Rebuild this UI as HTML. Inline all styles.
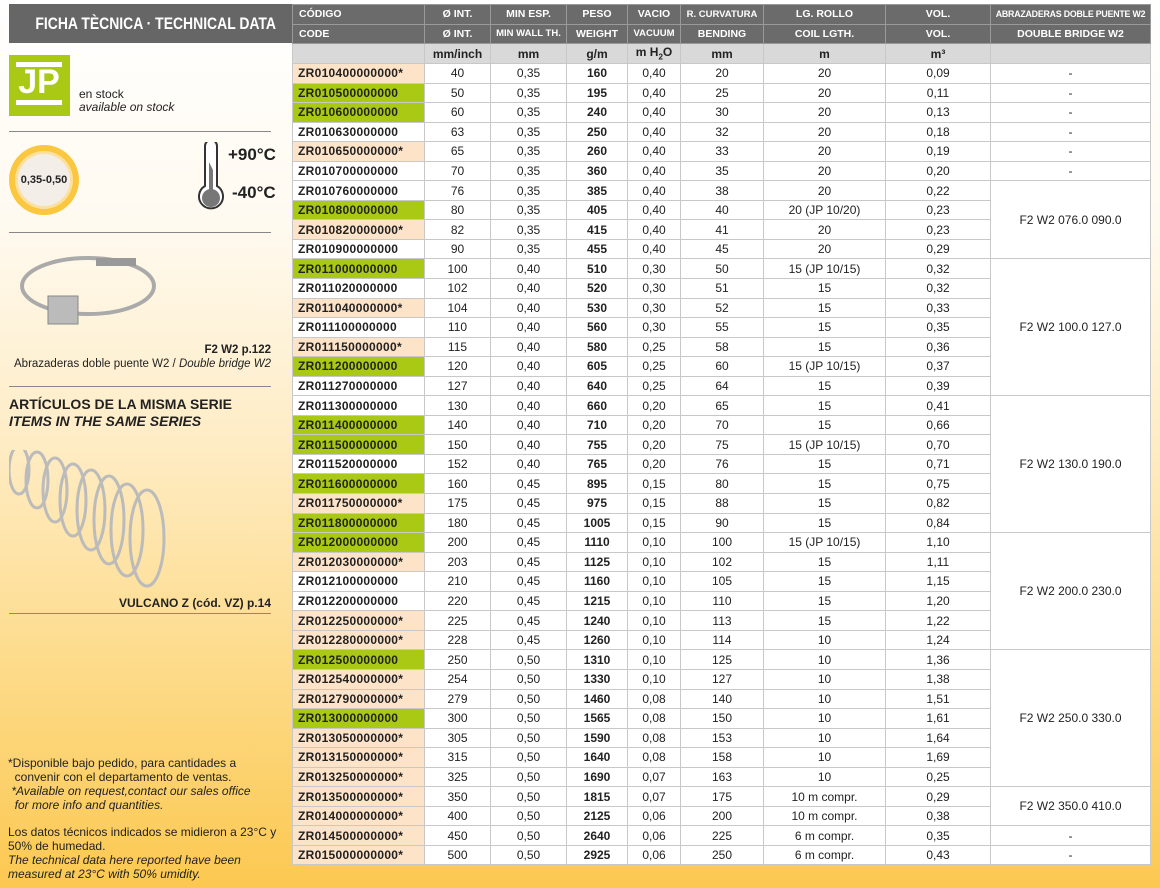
<!DOCTYPE html>
<html><head><meta charset="utf-8">
<style>
*{margin:0;padding:0;box-sizing:border-box}
body{width:1160px;height:888px;overflow:hidden;position:relative;font-family:"Liberation Sans Narrow","Liberation Sans",sans-serif;background:linear-gradient(to bottom,#ffffff 0%,#fffaf0 25%,#feecc4 50%,#fddb8a 75%,#fcc850 100%);color:#222}
.abs{position:absolute}
table{position:absolute;left:292px;top:4px;width:858px;border-collapse:collapse;table-layout:fixed;background:#fff;font-size:12px}
td{border:1px solid #c8c8c8;text-align:center;height:19.55px;padding:0;white-space:nowrap;overflow:hidden}
tr.h td{background:#6b6b6b;color:#fff;font-weight:bold;font-size:10.5px;border-color:#9a9a9a;height:19.5px}
tr.h td.l{text-align:left;padding-left:6px}
tr.u td{background:#d9d9d9;font-weight:bold;font-size:12px;height:20px}
td.c{text-align:left;padding-left:5px;font-weight:bold;letter-spacing:0.3px}
td.g{background:#a9c914}
td.p{background:#fde3c8}
td.b{font-weight:bold}
.line{position:absolute;left:9px;width:262px;height:1px;background:#888}
.sx{display:inline-block;transform:scaleX(0.86);transform-origin:center}
</style></head><body>
<div class="abs" style="left:9px;top:4px;width:283px;height:39px;background:#666;color:#fff;font-weight:bold;font-size:17px;text-align:center;line-height:39px;white-space:nowrap"><span class="sx" style="transform:scaleX(0.82)">FICHA TÈCNICA · TECHNICAL DATA</span></div>
<div class="abs" style="left:9px;top:55px;width:61px;height:61px;background:#a9c914"></div>
<div class="abs" style="left:16px;top:62px;width:46px;height:5px;background:#fff"></div>
<div class="abs" style="left:14px;top:64px;width:50px;height:36px;color:#fff;font-weight:bold;font-size:34px;line-height:36px;font-family:'Liberation Sans',sans-serif;text-align:center">JP</div>
<div class="abs" style="left:16px;top:100px;width:46px;height:5px;background:#fff"></div>
<div class="abs" style="left:79px;top:88px;font-size:12px;line-height:13px">en stock<br><i>available on stock</i></div>
<div class="line" style="top:131px"></div>
<div class="abs" style="left:9px;top:145px;width:70px;height:70px;border-radius:50%;background:#fbc73f"></div>
<div class="abs" style="left:15px;top:151px;width:58px;height:58px;border-radius:50%;background:#fbe0a0"></div>
<div class="abs" style="left:18px;top:154px;width:52px;height:52px;border-radius:50%;background:#f3efe8"></div>
<div class="abs" style="left:9px;top:174px;width:70px;text-align:center;font-size:11px;font-weight:bold">0,35-0,50</div>
<svg class="abs" style="left:196px;top:142px" width="30" height="72"><path d="M9 4 a6 6 0 0 1 12 0 v40 a12 12 0 1 1 -12 0z" fill="#fff" stroke="#333" stroke-width="2"/><circle cx="15" cy="56" r="9" fill="#777"/><path d="M13 20 l4 8 v20 h-4z" fill="#777"/></svg>
<div class="abs" style="left:228px;top:145px;font-size:17px;font-weight:bold">+90°C</div>
<div class="abs" style="left:232px;top:183px;font-size:17px;font-weight:bold">-40°C</div>
<div class="line" style="top:232px"></div>
<svg class="abs" style="left:18px;top:246px" width="140" height="90"><ellipse cx="70" cy="40" rx="66" ry="28" fill="none" stroke="#aaa" stroke-width="4"/><rect x="78" y="12" width="40" height="8" fill="#999"/><rect x="30" y="50" width="30" height="28" fill="#bbb" stroke="#888"/></svg>
<div class="abs" style="left:0px;top:343px;width:271px;text-align:right;font-size:11.5px;line-height:14px;white-space:nowrap"><b>F2 W2 p.122</b><br>Abrazaderas doble puente W2 / <i>Double bridge W2</i></div>
<div class="line" style="top:386px"></div>
<div class="abs" style="left:9px;top:396px;font-size:14px;font-weight:bold;line-height:17px">ARTÍCULOS DE LA MISMA SERIE<br><i>ITEMS IN THE SAME SERIES</i></div>
<svg class="abs" style="left:9px;top:450px" width="160" height="140"><g fill="none" stroke="#bbb" stroke-width="3"><ellipse cx="10" cy="20" rx="10" ry="24"/><ellipse cx="28" cy="30" rx="11" ry="28"/><ellipse cx="46" cy="40" rx="12" ry="32"/><ellipse cx="64" cy="50" rx="13" ry="36"/><ellipse cx="82" cy="60" rx="14" ry="40"/><ellipse cx="100" cy="70" rx="15" ry="44"/><ellipse cx="118" cy="80" rx="16" ry="46"/><ellipse cx="138" cy="88" rx="17" ry="48"/></g></svg>
<div class="abs" style="left:9px;top:596px;width:262px;text-align:right;font-size:12px;font-weight:bold">VULCANO Z (cód. VZ) p.14</div>
<div class="line" style="top:613px"></div>
<div class="abs" style="left:8px;top:756px;font-size:12px;line-height:14px">*Disponible bajo pedido, para cantidades a<br>&nbsp;&nbsp;convenir con el departamento de ventas.<br><i>&nbsp;*Available on request,contact our sales office<br>&nbsp;&nbsp;for more info and quantities.</i></div>
<div class="abs" style="left:8px;top:825px;font-size:12px;line-height:14px">Los datos técnicos indicados se midieron a 23°C y<br>50% de humedad.<br><i>The technical data here reported have been<br>measured at 23°C with 50% umidity.</i></div>
<table>
<colgroup><col style="width:132px"><col style="width:66px"><col style="width:76px"><col style="width:61px"><col style="width:53px"><col style="width:83px"><col style="width:122px"><col style="width:105px"><col style="width:160px"></colgroup>
<tr class="h"><td class="l">CÓDIGO</td><td>Ø INT.</td><td>MIN ESP.</td><td>PESO</td><td>VACIO</td><td style="font-size:9.5px">R. CURVATURA</td><td>LG. ROLLO</td><td>VOL.</td><td style="font-size:8.8px;letter-spacing:-0.2px">ABRAZADERAS DOBLE PUENTE W2</td></tr>
<tr class="h"><td class="l">CODE</td><td>Ø INT.</td><td style="font-size:9.5px">MIN WALL TH.</td><td>WEIGHT</td><td style="font-size:9.5px">VACUUM</td><td>BENDING</td><td>COIL LGTH.</td><td>VOL.</td><td>DOUBLE BRIDGE W2</td></tr>
<tr class="u"><td></td><td>mm/inch</td><td>mm</td><td>g/m</td><td>m H<sub style="font-size:8px">2</sub>O</td><td>mm</td><td>m</td><td>m³</td><td></td></tr>
<tr><td class="c p">ZR010400000000*</td><td>40</td><td>0,35</td><td class="b">160</td><td>0,40</td><td>20</td><td>20</td><td>0,09</td><td>-</td></tr>
<tr><td class="c g">ZR010500000000</td><td>50</td><td>0,35</td><td class="b">195</td><td>0,40</td><td>25</td><td>20</td><td>0,11</td><td>-</td></tr>
<tr><td class="c g">ZR010600000000</td><td>60</td><td>0,35</td><td class="b">240</td><td>0,40</td><td>30</td><td>20</td><td>0,13</td><td>-</td></tr>
<tr><td class="c">ZR010630000000</td><td>63</td><td>0,35</td><td class="b">250</td><td>0,40</td><td>32</td><td>20</td><td>0,18</td><td>-</td></tr>
<tr><td class="c p">ZR010650000000*</td><td>65</td><td>0,35</td><td class="b">260</td><td>0,40</td><td>33</td><td>20</td><td>0,19</td><td>-</td></tr>
<tr><td class="c">ZR010700000000</td><td>70</td><td>0,35</td><td class="b">360</td><td>0,40</td><td>35</td><td>20</td><td>0,20</td><td>-</td></tr>
<tr><td class="c">ZR010760000000</td><td>76</td><td>0,35</td><td class="b">385</td><td>0,40</td><td>38</td><td>20</td><td>0,22</td><td rowspan="4">F2 W2 076.0 090.0</td></tr>
<tr><td class="c g">ZR010800000000</td><td>80</td><td>0,35</td><td class="b">405</td><td>0,40</td><td>40</td><td>20 (JP 10/20)</td><td>0,23</td></tr>
<tr><td class="c p">ZR010820000000*</td><td>82</td><td>0,35</td><td class="b">415</td><td>0,40</td><td>41</td><td>20</td><td>0,23</td></tr>
<tr><td class="c">ZR010900000000</td><td>90</td><td>0,35</td><td class="b">455</td><td>0,40</td><td>45</td><td>20</td><td>0,29</td></tr>
<tr><td class="c g">ZR011000000000</td><td>100</td><td>0,40</td><td class="b">510</td><td>0,30</td><td>50</td><td>15 (JP 10/15)</td><td>0,32</td><td rowspan="7">F2 W2 100.0 127.0</td></tr>
<tr><td class="c">ZR011020000000</td><td>102</td><td>0,40</td><td class="b">520</td><td>0,30</td><td>51</td><td>15</td><td>0,32</td></tr>
<tr><td class="c p">ZR011040000000*</td><td>104</td><td>0,40</td><td class="b">530</td><td>0,30</td><td>52</td><td>15</td><td>0,33</td></tr>
<tr><td class="c">ZR011100000000</td><td>110</td><td>0,40</td><td class="b">560</td><td>0,30</td><td>55</td><td>15</td><td>0,35</td></tr>
<tr><td class="c p">ZR011150000000*</td><td>115</td><td>0,40</td><td class="b">580</td><td>0,25</td><td>58</td><td>15</td><td>0,36</td></tr>
<tr><td class="c g">ZR011200000000</td><td>120</td><td>0,40</td><td class="b">605</td><td>0,25</td><td>60</td><td>15 (JP 10/15)</td><td>0,37</td></tr>
<tr><td class="c">ZR011270000000</td><td>127</td><td>0,40</td><td class="b">640</td><td>0,25</td><td>64</td><td>15</td><td>0,39</td></tr>
<tr><td class="c">ZR011300000000</td><td>130</td><td>0,40</td><td class="b">660</td><td>0,20</td><td>65</td><td>15</td><td>0,41</td><td rowspan="7">F2 W2 130.0 190.0</td></tr>
<tr><td class="c g">ZR011400000000</td><td>140</td><td>0,40</td><td class="b">710</td><td>0,20</td><td>70</td><td>15</td><td>0,66</td></tr>
<tr><td class="c g">ZR011500000000</td><td>150</td><td>0,40</td><td class="b">755</td><td>0,20</td><td>75</td><td>15 (JP 10/15)</td><td>0,70</td></tr>
<tr><td class="c">ZR011520000000</td><td>152</td><td>0,40</td><td class="b">765</td><td>0,20</td><td>76</td><td>15</td><td>0,71</td></tr>
<tr><td class="c g">ZR011600000000</td><td>160</td><td>0,45</td><td class="b">895</td><td>0,15</td><td>80</td><td>15</td><td>0,75</td></tr>
<tr><td class="c p">ZR011750000000*</td><td>175</td><td>0,45</td><td class="b">975</td><td>0,15</td><td>88</td><td>15</td><td>0,82</td></tr>
<tr><td class="c g">ZR011800000000</td><td>180</td><td>0,45</td><td class="b">1005</td><td>0,15</td><td>90</td><td>15</td><td>0,84</td></tr>
<tr><td class="c g">ZR012000000000</td><td>200</td><td>0,45</td><td class="b">1110</td><td>0,10</td><td>100</td><td>15 (JP 10/15)</td><td>1,10</td><td rowspan="6">F2 W2 200.0 230.0</td></tr>
<tr><td class="c p">ZR012030000000*</td><td>203</td><td>0,45</td><td class="b">1125</td><td>0,10</td><td>102</td><td>15</td><td>1,11</td></tr>
<tr><td class="c">ZR012100000000</td><td>210</td><td>0,45</td><td class="b">1160</td><td>0,10</td><td>105</td><td>15</td><td>1,15</td></tr>
<tr><td class="c">ZR012200000000</td><td>220</td><td>0,45</td><td class="b">1215</td><td>0,10</td><td>110</td><td>15</td><td>1,20</td></tr>
<tr><td class="c p">ZR012250000000*</td><td>225</td><td>0,45</td><td class="b">1240</td><td>0,10</td><td>113</td><td>15</td><td>1,22</td></tr>
<tr><td class="c p">ZR012280000000*</td><td>228</td><td>0,45</td><td class="b">1260</td><td>0,10</td><td>114</td><td>10</td><td>1,24</td></tr>
<tr><td class="c g">ZR012500000000</td><td>250</td><td>0,50</td><td class="b">1310</td><td>0,10</td><td>125</td><td>10</td><td>1,36</td><td rowspan="7">F2 W2 250.0 330.0</td></tr>
<tr><td class="c p">ZR012540000000*</td><td>254</td><td>0,50</td><td class="b">1330</td><td>0,10</td><td>127</td><td>10</td><td>1,38</td></tr>
<tr><td class="c p">ZR012790000000*</td><td>279</td><td>0,50</td><td class="b">1460</td><td>0,08</td><td>140</td><td>10</td><td>1,51</td></tr>
<tr><td class="c g">ZR013000000000</td><td>300</td><td>0,50</td><td class="b">1565</td><td>0,08</td><td>150</td><td>10</td><td>1,61</td></tr>
<tr><td class="c p">ZR013050000000*</td><td>305</td><td>0,50</td><td class="b">1590</td><td>0,08</td><td>153</td><td>10</td><td>1,64</td></tr>
<tr><td class="c p">ZR013150000000*</td><td>315</td><td>0,50</td><td class="b">1640</td><td>0,08</td><td>158</td><td>10</td><td>1,69</td></tr>
<tr><td class="c p">ZR013250000000*</td><td>325</td><td>0,50</td><td class="b">1690</td><td>0,07</td><td>163</td><td>10</td><td>0,25</td></tr>
<tr><td class="c p">ZR013500000000*</td><td>350</td><td>0,50</td><td class="b">1815</td><td>0,07</td><td>175</td><td>10 m compr.</td><td>0,29</td><td rowspan="2">F2 W2 350.0 410.0</td></tr>
<tr><td class="c p">ZR014000000000*</td><td>400</td><td>0,50</td><td class="b">2125</td><td>0,06</td><td>200</td><td>10 m compr.</td><td>0,38</td></tr>
<tr><td class="c p">ZR014500000000*</td><td>450</td><td>0,50</td><td class="b">2640</td><td>0,06</td><td>225</td><td>6 m compr.</td><td>0,35</td><td>-</td></tr>
<tr><td class="c p">ZR015000000000*</td><td>500</td><td>0,50</td><td class="b">2925</td><td>0,06</td><td>250</td><td>6 m compr.</td><td>0,43</td><td>-</td></tr>
</table>
</body></html>
